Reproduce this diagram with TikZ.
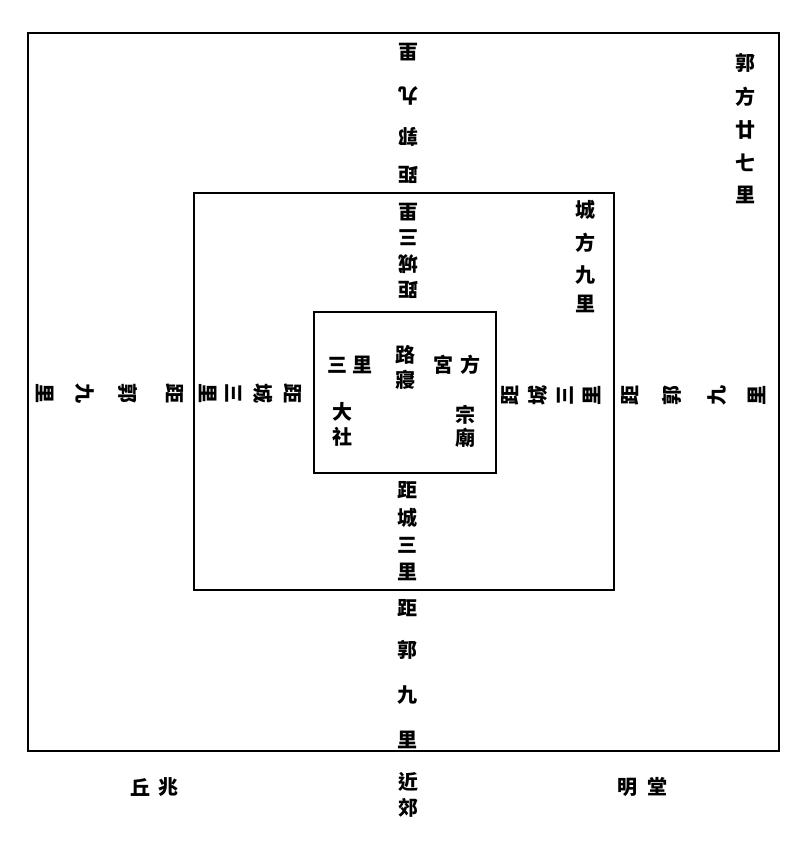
\documentclass[tikz,border=0pt]{standalone}
\usepackage{fontspec}
\newfontfamily\cjk{Noto Sans CJK TC}
\tikzset{
  zi/.style={font=\cjk\bfseries\fontsize{20}{20}\selectfont, inner sep=0pt},
  wall/.style={line width=2pt}
}
\begin{document}
\begin{tikzpicture}[x=1pt,y=-1pt]
\useasboundingbox (0,0) rectangle (804,845);
% walls
\draw (28,33) rectangle (779,751) [wall];
\draw (194,193) rectangle (614,590) [wall];
\draw (314,312) rectangle (496,473) [wall];
% arms: top, bottom, left, right
\foreach \c/\p [count=\i] in {距/175,郭/137,九/96,里/52,距/290,城/264,三/238,里/212}
  \node[zi, rotate=180] (top\i) at (408,\p) {\c};
\foreach \c/\p [count=\i] in {距/490,城/518,三/545,里/572,距/608,郭/650,九/695,里/740}
  \node[zi] (bot\i) at (407,\p) {\c};
\foreach \c/\p [count=\i] in {距/175,郭/128,九/85,里/45,距/293,城/263,三/234,里/208}
  \node[zi, rotate=-90] (lft\i) at (\p,393) {\c};
\foreach \c/\p [count=\i] in {距/510,城/538,三/565,里/592,距/630,郭/672,九/717,里/757}
  \node[zi, rotate=90] (rgt\i) at (\p,395) {\c};
% sizes
\foreach \c/\p [count=\i] in {郭/63,方/97,廿/130,七/163,里/195}
  \node[zi] (guo\i) at (745,\p) {\c};
\foreach \c/\p [count=\i] in {城/210,方/243,九/275,里/304}
  \node[zi] (cheng\i) at (585,\p) {\c};
% palace
\node[zi] (san) at (337,365) {三};
\node[zi] (li) at (362,365) {里};
\node[zi] (lu) at (405,355) {路};
\node[zi] (qin) at (405,380) {寢};
\node[zi] (gong) at (443,365) {宮};
\node[zi] (fang) at (470,365) {方};
\node[zi] (da) at (342,412) {大};
\node[zi] (she) at (342,437) {社};
\node[zi] (zong) at (465,415) {宗};
\node[zi] (miao) at (465,438) {廟};
% outside
\node[zi] (qiu) at (140,787) {丘};
\node[zi] (zhao) at (168,787) {兆};
\node[zi] (jin) at (408,782) {近};
\node[zi] (jiao) at (408,808) {郊};
\node[zi] (ming) at (627,787) {明};
\node[zi] (tang) at (657,787) {堂};
\end{tikzpicture}
\end{document}
